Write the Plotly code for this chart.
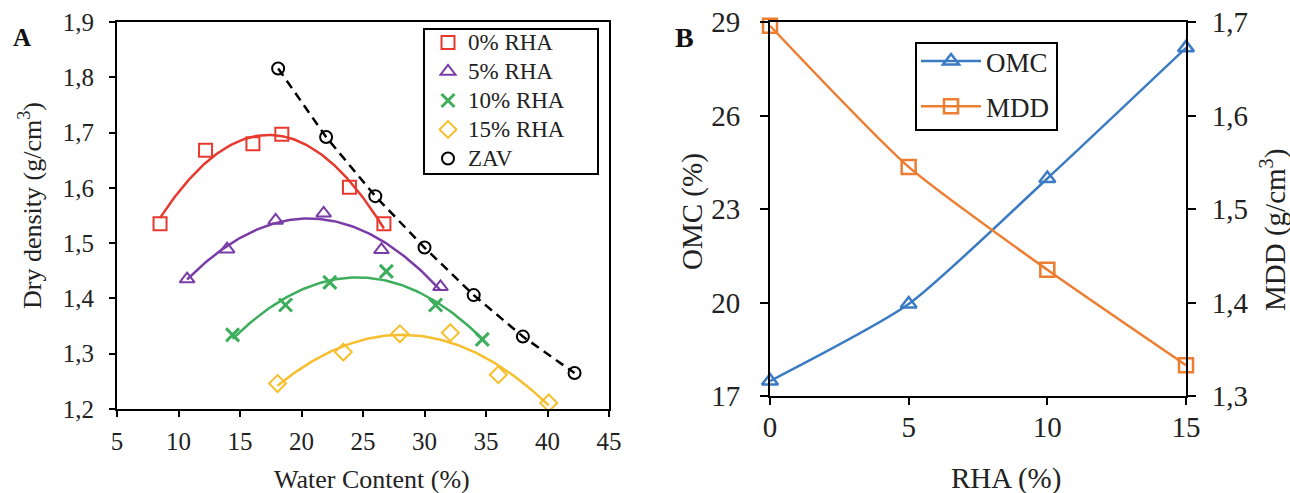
import numpy as np
import plotly.graph_objects as go

# ---------------- Data: panel A (compaction curves) ----------------
wc_0 = [8.5, 12.2, 16.05, 18.4, 23.9, 26.7]
dd_0 = [1.535, 1.668, 1.680, 1.697, 1.601, 1.535]
wc_5 = [10.7, 13.95, 17.9, 21.8, 26.5, 31.3]
dd_5 = [1.435, 1.489, 1.541, 1.554, 1.488, 1.421]
wc_10 = [14.4, 18.7, 22.3, 26.9, 30.9, 34.7]
dd_10 = [1.334, 1.388, 1.429, 1.449, 1.388, 1.326]
wc_15 = [18.05, 23.4, 28.0, 32.1, 36.0, 40.1]
dd_15 = [1.246, 1.303, 1.336, 1.338, 1.262, 1.211]
wc_zav = [18.1, 22.0, 26.0, 30.0, 34.0, 38.0, 42.2]
dd_zav = [1.816, 1.692, 1.585, 1.492, 1.406, 1.331, 1.265]

series_names = ["0% RHA", "5% RHA", "10% RHA", "15% RHA"]
zav_name = "ZAV"

# ---------------- Data: panel B ----------------
rha = [0, 5, 10, 15]
omc = [17.48, 19.95, 23.98, 28.17]
mdd = [1.696, 1.545, 1.435, 1.333]

W, H = 1290, 493
def px(x):
    return x / W
def py(y):
    return 1 - y / H

FONT = "Liberation Serif"
colors = ["#E8392F", "#7A3DA8", "#3DAE5C", "#F7BE2E"]
symbols = ["square-open", "triangle-up-open", "x-thin", "diamond-open"]

def leg_name(s):
    return "<span style='font-size:23px'>" + s + "</span>"

fig = go.Figure()

series = [(wc_0, dd_0), (wc_5, dd_5), (wc_10, dd_10), (wc_15, dd_15)]
for (xs, ys), name, c, s in zip(series, series_names, colors, symbols):
    coef = np.polyfit(xs, ys, 2)
    xf = np.linspace(min(xs), max(xs), 120)
    fig.add_trace(go.Scatter(x=xf, y=np.polyval(coef, xf), mode="lines",
                             line=dict(color=c, width=2.5), showlegend=False,
                             hoverinfo="skip", xaxis="x", yaxis="y"))
for (xs, ys), name, c, s in zip(series, series_names, colors, symbols):
    lw = 3 if s == "x-thin" else 2
    mk = dict(symbol=s, size=13, color=c, line=dict(color=c, width=lw))
    fig.add_trace(go.Scatter(x=xs, y=ys, mode="markers", name=leg_name(name), marker=mk,
                             xaxis="x", yaxis="y", legend="legend", cliponaxis=False))

fig.add_trace(go.Scatter(x=wc_zav, y=dd_zav, mode="lines",
                         line=dict(color="black", width=2.5, dash="9px,6px"),
                         showlegend=False, xaxis="x", yaxis="y"))
fig.add_trace(go.Scatter(x=wc_zav, y=dd_zav, mode="markers", name=leg_name(zav_name),
                         marker=dict(symbol="circle-open", size=12, color="black",
                                     line=dict(color="black", width=2)),
                         xaxis="x", yaxis="y", legend="legend", cliponaxis=False))

# Panel B
fig.add_trace(go.Scatter(x=rha, y=omc, mode="lines+markers", name="OMC",
                         legendgroup="omc",
                         line=dict(color="#3B7BC4", width=2.5, shape="spline", smoothing=0.6),
                         marker=dict(symbol="triangle-up-open", size=14, color="#3B7BC4",
                                     line=dict(color="#3B7BC4", width=2.5)),
                         xaxis="x2", yaxis="y2", legend="legend2", cliponaxis=False))
fig.add_trace(go.Scatter(x=rha, y=mdd, mode="lines+markers", name="MDD",
                         legendgroup="mdd",
                         line=dict(color="#ED7D31", width=2.5, shape="spline", smoothing=0.6),
                         marker=dict(symbol="square-open", size=14, color="#ED7D31",
                                     line=dict(color="#ED7D31", width=2.5)),
                         xaxis="x2", yaxis="y3", legend="legend2", cliponaxis=False))

ax_common = dict(showgrid=False, zeroline=False, showline=True, linecolor="black",
                 linewidth=2, ticks="outside", tickcolor="black", tickwidth=1.5)

fontA = dict(family=FONT, size=25, color="#222")
fontAt = dict(family=FONT, size=26, color="#222")
fontB = dict(family=FONT, size=29, color="#222")

fig.update_layout(
    width=W, height=H,
    margin=dict(l=0, r=0, t=0, b=0, autoexpand=False),
    paper_bgcolor="white", plot_bgcolor="white",
    separators=", ",
    font=dict(family=FONT, color="#222"),
    xaxis=dict(domain=[px(117), px(609)], range=[5, 45], dtick=5, tick0=5,
               mirror=True, ticklen=6, tickfont=fontA, anchor="y",
               ticklabelstandoff=3, **ax_common),
    yaxis=dict(domain=[py(409), py(22)], range=[1.2, 1.9], dtick=0.1, tick0=1.2,
               tickformat=".1f", mirror=True, ticklen=6, tickfont=fontA, anchor="x",
               ticklabelstandoff=10, **ax_common),
    xaxis2=dict(domain=[px(770), px(1186)], range=[0, 15], dtick=5, tick0=0,
                mirror=True, ticklen=7, tickfont=fontB, anchor="y2",
                ticklabelstandoff=-3, **ax_common),
    yaxis2=dict(domain=[py(396), py(22)], range=[17, 29], dtick=3, tick0=17,
                ticklen=8, tickfont=fontB, anchor="x2", ticklabelstandoff=14, **ax_common),
    yaxis3=dict(domain=[py(396), py(22)], range=[1.3, 1.7], dtick=0.1, tick0=1.3,
                tickformat=".1f", overlaying="y2", side="right", anchor="x2",
                ticklen=8, tickfont=fontB, ticklabelstandoff=10, **ax_common),
    legend=dict(x=px(428), y=py(23), xanchor="left", yanchor="top",
                bgcolor="rgba(0,0,0,0)", borderwidth=0,
                font=dict(family=FONT, size=20, color="#222"),
                tracegroupgap=0, itemwidth=30),
    legend2=dict(x=px(916), y=py(37), xanchor="left", yanchor="top",
                 bgcolor="rgba(0,0,0,0)", borderwidth=0, traceorder="grouped",
                 tracegroupgap=7,
                 font=dict(family=FONT, size=27, color="#222"), itemwidth=60),
    showlegend=True,
)

# legend frames
fig.add_shape(type="rect", xref="paper", yref="paper", layer="above",
              x0=px(424), x1=px(598), y0=py(174), y1=py(29),
              line=dict(color="black", width=2), fillcolor="rgba(0,0,0,0)")
fig.add_shape(type="rect", xref="paper", yref="paper", layer="above",
              x0=px(916), x1=px(1057), y0=py(130), y1=py(43),
              line=dict(color="black", width=2), fillcolor="rgba(0,0,0,0)")

annots = [
    dict(text="<b>A</b>", x=px(22), y=py(38), font=dict(family=FONT, size=25, color="#111")),
    dict(text="<b>B</b>", x=px(684), y=py(37), font=dict(family=FONT, size=28, color="#111")),
    dict(text="Water Content (%)", x=px(372), y=py(479), font=fontAt),
    dict(text="Dry density (g/cm<sup>3</sup>)", x=px(30), y=py(206), textangle=-90, font=fontAt),
    dict(text="RHA (%)", x=px(1006), y=py(478), font=fontB),
    dict(text="OMC (%)", x=px(692), y=py(212), textangle=-90, font=fontB),
    dict(text="MDD (g/cm<sup>3</sup>)", x=px(1274), y=py(230), textangle=-90, font=fontB),
]
for a in annots:
    fig.add_annotation(xref="paper", yref="paper", showarrow=False,
                       xanchor="center", yanchor="middle", **a)

fig.write_html(
    "out.html",
    config={"displayModeBar": False},
    post_script="document.body.style.margin='0';document.body.style.padding='0';"
                "document.body.style.overflow='hidden';",
)
